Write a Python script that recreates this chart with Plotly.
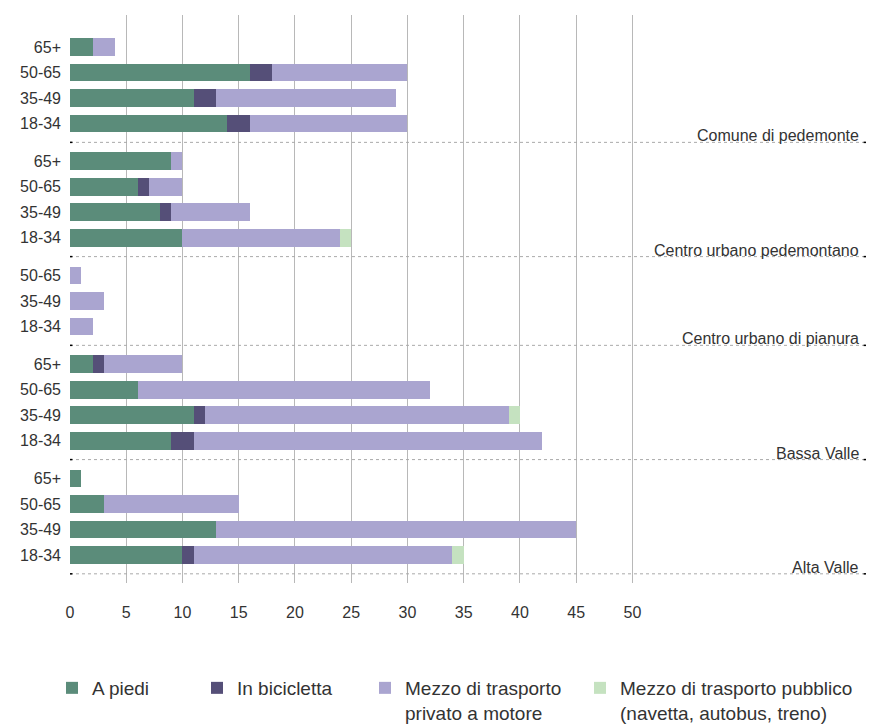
import plotly.graph_objects as go

# ---------------- data ----------------
groups = ["Comune di pedemonte", "Centro urbano pedemontano",
          "Centro urbano di pianura", "Bassa Valle", "Alta Valle"]
ages = [
    ["65+", "50-65", "35-49", "18-34"],
    ["65+", "50-65", "35-49", "18-34"],
    ["50-65", "35-49", "18-34"],
    ["65+", "50-65", "35-49", "18-34"],
    ["65+", "50-65", "35-49", "18-34"],
]
a_piedi = [[2, 16, 11, 14], [9, 6, 8, 10], [0, 0, 0], [2, 6, 11, 9], [1, 3, 13, 10]]
bicicletta = [[0, 2, 2, 2], [0, 1, 1, 0], [0, 0, 0], [1, 0, 1, 2], [0, 0, 0, 1]]
privato = [[2, 12, 16, 14], [1, 3, 7, 14], [1, 3, 2], [7, 26, 27, 31], [0, 12, 32, 23]]
pubblico = [[0, 0, 0, 0], [0, 0, 0, 1], [0, 0, 0], [0, 0, 1, 0], [0, 0, 0, 1]]

series_names = ["A piedi", "In bicicletta", "Mezzo di trasporto<br>privato a motore",
                "Mezzo di trasporto pubblico<br>(navetta, autobus, treno)"]
series_values = [a_piedi, bicicletta, privato, pubblico]
colors = ["#5b8c7a", "#554f78", "#aaa5d0", "#c5e2c0"]

x_ticks = list(range(0, 55, 5))

# ---------------- layout helpers ----------------
GAP = 0.48      # extra space between groups (in row units)
SEP = 0.74      # separator offset after last row of a group
pos, labels, seps = [], [], []
r = 0
for g, rows in enumerate(ages):
    for a in rows:
        pos.append(r + g * GAP)
        labels.append(a)
        r += 1
    seps.append(pos[-1] + SEP)

flat = lambda lst: [v for sub in lst for v in sub]

FONT = "Liberation Sans, Arial, Helvetica, sans-serif"
TXT = "#333333"
W, H = 871, 725

fig = go.Figure()
legend_ids = ["legend", "legend2", "legend3", "legend4"]
for name, vals, col, lid in zip(series_names, series_values, colors, legend_ids):
    fig.add_trace(go.Bar(
        y=pos, x=flat(vals), orientation="h", name=name,
        marker=dict(color=col, line=dict(width=0)),
        width=0.7, legend=lid,
    ))

shapes = []
annotations = []
for s, gname in zip(seps, groups):
    shapes.append(dict(type="line", xref="paper", yref="y", x0=0, x1=1, y0=s, y1=s,
                       line=dict(color="#aaaaaa", width=1, dash="3px,3px")))
    shapes.append(dict(type="line", xref="paper", yref="y", x0=0, x1=0.003, y0=s, y1=s,
                       line=dict(color="#000000", width=1.5)))
    shapes.append(dict(type="line", xref="paper", yref="y", x0=0.997, x1=1, y0=s, y1=s,
                       line=dict(color="#000000", width=1.5)))
    annotations.append(dict(text=gname, xref="paper", yref="y", x=0.994, y=s,
                            xanchor="right", yanchor="bottom", showarrow=False,
                            yshift=-4, font=dict(size=16, color=TXT, family=FONT)))

leg_common = dict(orientation="h", xref="container", yref="container",
                  yanchor="top", y=1 - 669 / H, xanchor="left",
                  font=dict(size=19, color=TXT, family=FONT), valign="top",
                  bgcolor="rgba(0,0,0,0)", itemwidth=30)
text_starts = [92, 237, 405, 620]
legends = {}
for lid, ts in zip(legend_ids, text_starts):
    d = dict(leg_common)
    d["x"] = (ts - 40) / W
    legends[lid] = d

fig.update_layout(
    width=W, height=H,
    margin=dict(l=70, r=5, t=15, b=142, autoexpand=False),
    paper_bgcolor="white", plot_bgcolor="white",
    barmode="stack", bargap=0,
    font=dict(family=FONT, size=16, color=TXT),
    xaxis=dict(range=[0, 70.76], tickvals=x_ticks, showgrid=True,
               gridcolor="#b8b8b8", gridwidth=1, zeroline=False, showline=False,
               ticks="", ticklabelstandoff=18, automargin=False,
               tickfont=dict(size=16, color=TXT, family=FONT)),
    yaxis=dict(range=[21.02, -1.255], tickvals=pos, ticktext=labels,
               showgrid=False, zeroline=False, showline=False, ticks="",
               ticklabelstandoff=8, automargin=False,
               tickfont=dict(size=16, color=TXT, family=FONT)),
    shapes=shapes, annotations=annotations,
    showlegend=True,
    **legends,
)

fig.write_html("out.html", config={"displayModeBar": False},
               post_script="document.body.style.margin='0';document.body.style.padding='0';")
